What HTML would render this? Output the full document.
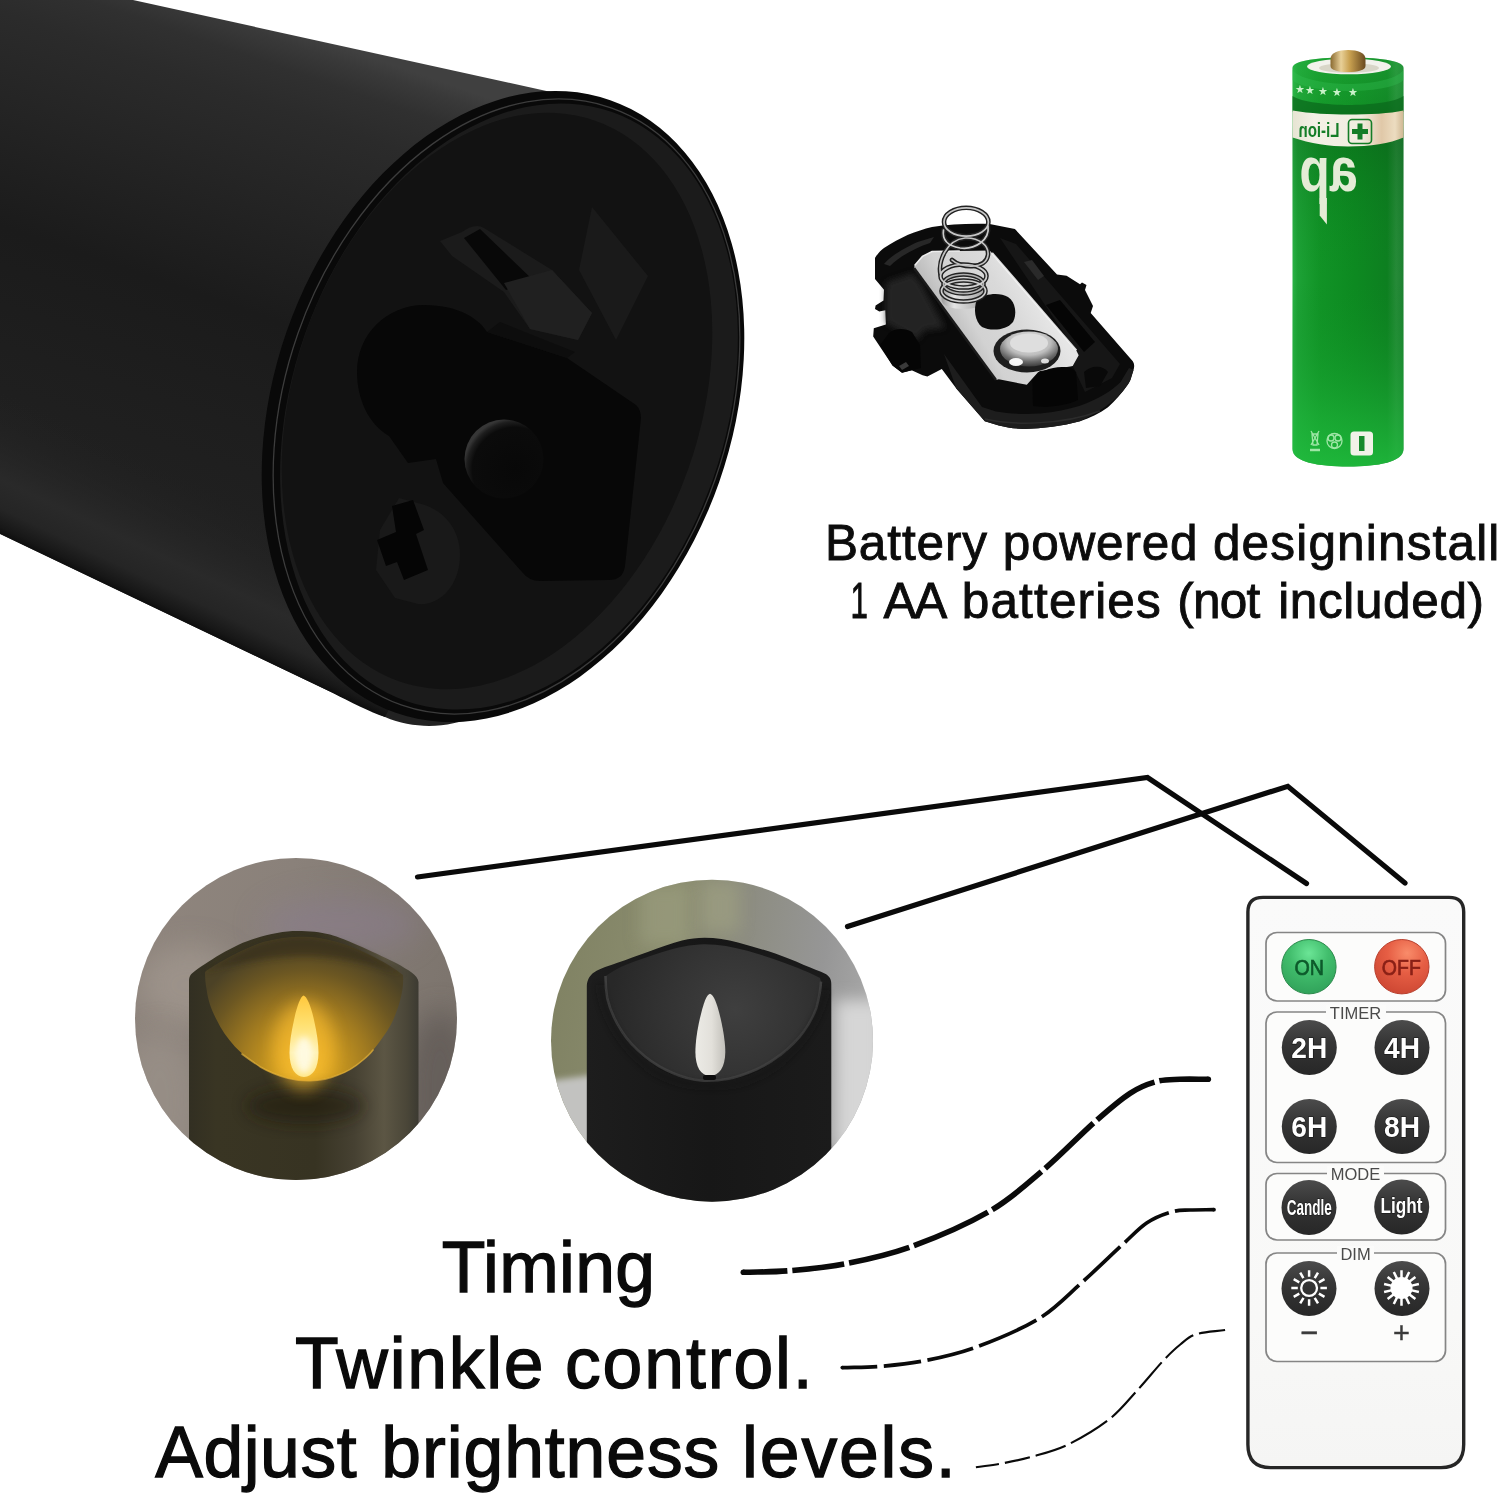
<!DOCTYPE html>
<html lang="en">
<head>
<meta charset="utf-8">
<title>Battery powered candle with remote</title>
<style>
html,body{margin:0;padding:0;background:#fff;}
body{width:1500px;height:1496px;overflow:hidden;position:relative;font-family:"Liberation Sans",sans-serif;}
svg{position:absolute;left:0;top:0;display:block;}
text{font-family:"Liberation Sans",sans-serif;}
</style>
</head>
<body>
<svg style="will-change:transform" width="1500" height="1496" viewBox="0 0 1500 1496">
<defs>
<linearGradient id="bodyG" gradientUnits="userSpaceOnUse" x1="330" y1="43" x2="147" y2="573">
<stop offset="0" stop-color="#404040"/>
<stop offset="0.025" stop-color="#393939"/>
<stop offset="0.07" stop-color="#303030"/>
<stop offset="0.14" stop-color="#2b2b2b"/>
<stop offset="0.3" stop-color="#242424"/>
<stop offset="0.5" stop-color="#1b1b1b"/>
<stop offset="0.7" stop-color="#1e1e1e"/>
<stop offset="1" stop-color="#222222"/>
</linearGradient>
<clipPath id="capClip"><ellipse cx="503" cy="406.5" rx="324.6" ry="229" transform="rotate(-70.7 503 406.5)"/></clipPath>
<linearGradient id="remG" x1="0" y1="0" x2="0" y2="1">
<stop offset="0" stop-color="#fafafa"/><stop offset="0.75" stop-color="#f8f8f7"/><stop offset="1" stop-color="#f5f5f4"/>
</linearGradient>
<radialGradient id="onG" cx="0.5" cy="0.25" r="0.8">
<stop offset="0" stop-color="#6be596"/><stop offset="0.45" stop-color="#41bd6c"/><stop offset="1" stop-color="#2f9f58"/>
</radialGradient>
<radialGradient id="offG" cx="0.6" cy="0.25" r="0.8">
<stop offset="0" stop-color="#f98c6a"/><stop offset="0.45" stop-color="#e65e44"/><stop offset="1" stop-color="#cc4632"/>
</radialGradient>
<linearGradient id="btnG" x1="0" y1="0" x2="0" y2="1">
<stop offset="0" stop-color="#4c4c4c"/><stop offset="0.4" stop-color="#363636"/><stop offset="1" stop-color="#272727"/>
</linearGradient>
<filter id="blur3" x="-20%" y="-20%" width="140%" height="140%"><feGaussianBlur stdDeviation="3"/></filter>
<filter id="blur8" x="-40%" y="-40%" width="180%" height="180%"><feGaussianBlur stdDeviation="8"/></filter>
<filter id="blur12" x="-50%" y="-50%" width="200%" height="200%"><feGaussianBlur stdDeviation="14"/></filter>
<clipPath id="c1clip"><circle cx="296" cy="1019" r="161"/></clipPath>
<clipPath id="c2clip"><circle cx="712" cy="1040.700" r="161"/></clipPath>
<linearGradient id="c1bg" x1="0" y1="0" x2="1" y2="0.300">
<stop offset="0" stop-color="#90867e"/><stop offset="0.45" stop-color="#8a817a"/><stop offset="1" stop-color="#7c746d"/>
</linearGradient>
<linearGradient id="c1body" gradientUnits="userSpaceOnUse" x1="189" y1="0" x2="418.500" y2="0">
<stop offset="0" stop-color="#322f22"/><stop offset="0.12" stop-color="#393523"/><stop offset="0.55" stop-color="#373322"/><stop offset="0.72" stop-color="#464132"/><stop offset="0.85" stop-color="#5c5644"/><stop offset="0.95" stop-color="#4a4638"/><stop offset="1" stop-color="#3c3a32"/>
</linearGradient>
<radialGradient id="c1glow" gradientUnits="userSpaceOnUse" cx="305" cy="1072" r="128" fx="305" fy="1066">
<stop offset="0" stop-color="#e8b428"/><stop offset="0.22" stop-color="#cf9c20"/><stop offset="0.5" stop-color="#a07a20"/><stop offset="0.78" stop-color="#6c5722"/><stop offset="1" stop-color="#4c4226"/>
</radialGradient>
<linearGradient id="flame1" x1="0" y1="0" x2="0" y2="1">
<stop offset="0" stop-color="#ffc83c"/><stop offset="0.35" stop-color="#ffe070"/><stop offset="0.7" stop-color="#fff2b4"/><stop offset="1" stop-color="#ffe684"/>
</linearGradient>
<linearGradient id="c2bg" x1="0" y1="0" x2="1" y2="0.150">
<stop offset="0" stop-color="#7e8061"/><stop offset="0.4" stop-color="#8b8d6f"/><stop offset="0.62" stop-color="#8d8d82"/><stop offset="0.85" stop-color="#969696"/><stop offset="1" stop-color="#a6a6a6"/>
</linearGradient>
<linearGradient id="c2body" gradientUnits="userSpaceOnUse" x1="586" y1="0" x2="831" y2="0">
<stop offset="0" stop-color="#1d1d1d"/><stop offset="0.5" stop-color="#171717"/><stop offset="1" stop-color="#1b1b1b"/>
</linearGradient>
<radialGradient id="c2in" gradientUnits="userSpaceOnUse" cx="735" cy="1010" r="125">
<stop offset="0" stop-color="#3f3f3f"/><stop offset="0.5" stop-color="#343434"/><stop offset="1" stop-color="#282828"/>
</radialGradient>
<linearGradient id="flame2" x1="0" y1="0" x2="1" y2="0">
<stop offset="0" stop-color="#ecebe6"/><stop offset="0.55" stop-color="#e2e0da"/><stop offset="1" stop-color="#c2c0ba"/>
</linearGradient>
<linearGradient id="batG" gradientUnits="userSpaceOnUse" x1="1292" y1="0" x2="1404" y2="0">
<stop offset="0" stop-color="#2cb548"/><stop offset="0.05" stop-color="#1da236"/><stop offset="0.25" stop-color="#119326"/><stop offset="0.55" stop-color="#0d8a21"/><stop offset="0.85" stop-color="#0d7f20"/><stop offset="0.93" stop-color="#268a38"/><stop offset="1" stop-color="#1c8030"/>
</linearGradient>
<linearGradient id="batBot" gradientUnits="userSpaceOnUse" x1="0" y1="55" x2="0" y2="466">
<stop offset="0" stop-color="#2fc04a" stop-opacity="0.35"/><stop offset="0.12" stop-color="#2fc04a" stop-opacity="0.15"/><stop offset="0.17" stop-color="#063c10" stop-opacity="0"/><stop offset="0.19" stop-color="#063c10" stop-opacity="0.25"/><stop offset="0.55" stop-color="#0d8a21" stop-opacity="0"/><stop offset="0.88" stop-color="#1fb83c" stop-opacity="0.55"/><stop offset="1" stop-color="#22c040" stop-opacity="0.8"/>
</linearGradient>
<linearGradient id="goldG" x1="0" y1="0" x2="1" y2="0">
<stop offset="0" stop-color="#8a6a30"/><stop offset="0.3" stop-color="#e8d098"/><stop offset="0.55" stop-color="#c8a050"/><stop offset="1" stop-color="#6a4a20"/>
</linearGradient>
<linearGradient id="bandG" gradientUnits="userSpaceOnUse" x1="1292" y1="0" x2="1404" y2="0">
<stop offset="0" stop-color="#e6e4d2"/><stop offset="0.2" stop-color="#f3f1e6"/><stop offset="0.62" stop-color="#f1ede0"/><stop offset="0.8" stop-color="#e0c8a8"/><stop offset="0.92" stop-color="#ecdcc0"/><stop offset="1" stop-color="#cdb590"/>
</linearGradient>
<linearGradient id="plateG" gradientUnits="userSpaceOnUse" x1="925" y1="300" x2="1010" y2="250">
<stop offset="0" stop-color="#b4b4b4"/><stop offset="0.3" stop-color="#d2d2d2"/><stop offset="0.7" stop-color="#d9d9d9"/><stop offset="1" stop-color="#e6e6e6"/>
</linearGradient>
<radialGradient id="domeG" cx="0.5" cy="0.3" r="0.75">
<stop offset="0" stop-color="#ededed"/><stop offset="0.5" stop-color="#bdbdbd"/><stop offset="0.75" stop-color="#6a6a6a"/><stop offset="1" stop-color="#2c2c2c"/>
</radialGradient>
<linearGradient id="bodyEdge" gradientUnits="userSpaceOnUse" x1="160" y1="610.400" x2="216" y2="493">
<stop offset="0" stop-color="#0e0e0e"/><stop offset="0.05" stop-color="#171717"/><stop offset="0.18" stop-color="#252525" stop-opacity="0.95"/><stop offset="0.38" stop-color="#2b2b2b" stop-opacity="0.85"/><stop offset="0.7" stop-color="#262626" stop-opacity="0.4"/><stop offset="1" stop-color="#222222" stop-opacity="0"/>
</linearGradient>
<radialGradient id="bumpG" cx="0.64" cy="0.64" r="0.66">
<stop offset="0" stop-color="#080808"/><stop offset="0.82" stop-color="#0b0b0b"/><stop offset="0.93" stop-color="#1e1e1e"/><stop offset="1" stop-color="#363636"/>
</radialGradient>
<linearGradient id="c1right" gradientUnits="userSpaceOnUse" x1="300" y1="0" x2="420" y2="0">
<stop offset="0" stop-color="#4a463c" stop-opacity="0"/><stop offset="1" stop-color="#5a554c" stop-opacity="0.5"/>
</linearGradient>
<linearGradient id="cylG" gradientUnits="userSpaceOnUse" x1="941" y1="0" x2="985" y2="0">
<stop offset="0" stop-color="#9a9a9a"/><stop offset="0.3" stop-color="#e4e4e4"/><stop offset="0.6" stop-color="#c8c8c8"/><stop offset="1" stop-color="#a6a6a6"/>
</linearGradient>

</defs>
<rect width="1500" height="1496" fill="#ffffff"/>
<g id="candle">
<path d="M0,0 L133,0 L560,94 L600,400 L475,716 C450,728 415,730 385,717 L333,693 L0,534 Z" fill="url(#bodyG)"/>
<path d="M-10,529 L333,693 C350,702 370,712 385,717 L445,603 L-10,385 Z" fill="url(#bodyEdge)"/>
<ellipse cx="503" cy="406.500" rx="324.600" ry="229" transform="rotate(-70.700 503 406.500)" fill="#090909"/>
<g clip-path="url(#capClip)">
<ellipse cx="506.500" cy="406.500" rx="316.500" ry="221" transform="rotate(-70.700 506.500 406.500)" fill="none" stroke="#3c3c3c" stroke-width="1.300"/>
<ellipse cx="509" cy="406.500" rx="312" ry="216.500" transform="rotate(-70.700 509 406.500)" fill="#1b1b1b"/>
<ellipse cx="497" cy="401" rx="297" ry="203" transform="rotate(-70.700 497 401)" fill="#121212"/>
<path d="M592,207 L648,276 L616,340 L579,270 Z" fill="#1a1a1a"/>
<path d="M440,241 L462,232 C470,226 478,224 484,228 L552,270 L592,313 L578,340 L530,329 L504,292 L452,256 Z" fill="#1b1b1b"/>
<path d="M464,238 L480,229 L534,281 L506,290 Z" fill="#080808"/>
<path d="M504,283 L552,270 L592,313 L578,340 L530,329 Z" fill="#202020"/>
<path d="M487,332 L567,358 L636,405 Q641,410 641,418 L625,566 Q623,580 609,580 L540,581 Q529,581 522,572 L443,483 L436,459 L408,463 L389,436 C368,424 357,398 357,372 C357,334 387,305 424,305 C460,305 480,320 487,332 Z" fill="#070707"/>
<path d="M487,332 L567,358 L575,352 L500,322 Z" fill="#0d0d0d"/>
<circle cx="504" cy="459" r="39.500" fill="url(#bumpG)"/>
<path d="M399,498 L425,505 C445,512 460,530 460,555 C460,585 440,606 418,604 L395,598 L376,570 L380,530 Z" fill="#191919"/>
<path d="M392,506 L413,500 L424,530 L416,534 L428,570 L404,580 L397,562 L386,566 L377,540 L396,532 Z" fill="#050505"/>
</g>
</g>

<g id="cover">
<path d="M875,258 C878,253 881,250 884,248 C892,243 900,238.500 908,234.800 C916,231.500 924,229 932,227 C950,224 970,223.500 989.600,224 L1014.900,229 L1057,274.600 L1066.600,275.800 L1080,284.200 L1082,282.500 L1086.500,285 L1085,290 L1093,306 L1090.700,313 L1132.800,361.300 C1134.500,364 1134.500,367 1133.500,370 L1130.400,380 C1129.500,382 1128.500,384 1127.600,385 C1122,393 1115,401 1108,407.200 C1100,413 1090,418 1080,421.200 C1062,426 1043,428.500 1024,429 C1015,428.500 1007,427.500 998.800,425.400 L984.800,421.200 L956.300,388.400 L941.800,369.100 L927.400,376.400 L922.600,375.200 L911.700,370.300 L902,372.700 L892.500,365.500 L873.200,336.600 L873.800,328.200 L885.900,324.600 L885.300,310.200 L879.300,311.400 L875,309 L875.600,305.400 L883.500,300.500 L884,289.700 L875,278.900 Z" fill="#0b0b0b"/>
<path d="M944,354 L982,407 L996,411.500 C1010,414 1025,414.500 1040,413.500 C1055,412 1068,409.500 1080,405.800 C1098,399 1112,391 1120.600,382 L1129,368 L1133.500,370 L1130.400,380 C1122,395 1108,408 1080,421.200 C1062,426 1043,428.500 1024,429 C1015,428.500 1007,427.500 998.800,425.400 L984.800,421.200 L956.300,388.400 Z" fill="#1d1d1d"/>
<path d="M984.800,419 C1010,425 1060,426 1100,411" fill="none" stroke="#333333" stroke-width="1.500" opacity="0.7"/>
<path d="M886.500,282 L913,273 L921,283 L945,328 L925,330 L917,340 L886,323 L886,290 Z" fill="#2a2a2a" opacity="0.8" filter="url(#blur3)"/>
<path d="M884,264 C890,257 900,250 917.600,242 L934,237 L930,243 C915,248 900,256 890,266 Z" fill="#2e2e2e" opacity="0.8"/>
<path d="M1000,238 L1016,244 L1120,364 L1112,378 L1085,392 L1072.700,366 L1078.700,355.200 Z" fill="#161616"/>
<path d="M1046,305 L1060,300 L1095,342 L1084,352 Z" fill="#050505"/>
<path d="M1024,262 L1032,260 L1044,276 L1038,280 Z" fill="#2a2a2a"/>
<path d="M914.600,265.400 L922.400,256.400 L932,251.600 L989.600,250.400 L992,253 L1076.300,350.400 L1078.700,355.200 L1072.700,366 L1070.200,366.600 L1040,371 L1038,372.200 L1026.800,384.800 L998.800,379.200 L996,380 L980.300,358.300 L914,268 Z" fill="url(#plateG)"/>
<path d="M992,253 L1076.300,350.400" stroke="#f4f4f4" stroke-width="2.200" fill="none" opacity="0.9"/>
<path d="M914,268 L996,380" stroke="#1a1a1a" stroke-width="2.500" fill="none"/>
<path d="M914.600,265.400 L922.400,256.400 L932,251.600 L960,251" stroke="#ededed" stroke-width="1.500" fill="none"/>
<path d="M941.500,284 H985 V300 C985,312 941.500,312 941.500,300 Z" fill="url(#cylG)"/>
<path d="M977,300 C985,293 1000,292 1008,297 C1016,302 1017,315 1013,322 C1006,331 990,331 982,327 C975,322 973,308 977,300 Z" fill="#0d0d0d"/>
<ellipse cx="1027" cy="351" rx="33.500" ry="21.500" fill="#1e1e1e"/>
<ellipse cx="1029" cy="349" rx="29" ry="17.500" fill="url(#domeG)"/>
<ellipse cx="1029" cy="343" rx="19" ry="9.500" fill="#dedede"/>
<ellipse cx="1016" cy="362" rx="7" ry="4" fill="#ffffff" opacity="0.95"/>
<ellipse cx="1045" cy="361" rx="4" ry="2.500" fill="#ffffff" opacity="0.8"/>
<path d="M1032.400,380 C1038,372 1050,367 1062,367 C1070,367 1074,369.500 1076,372.200 L1078,400 C1066,406 1046,408 1033,406 Z" fill="#050505"/>
<path d="M1084,372 C1092,364 1104,366 1108,372 L1100,386 L1086,388 Z" fill="#090909"/>
<path d="M889,333 C895,328 905,328 912,332 L920,345 L921,368 L911.700,370.300 L902,372.700 L892.500,365.500 L880,345 Z" fill="#050505"/>
<path d="M899,366 L906,362 L909,366 L902,370 Z" fill="#3a3a3a"/>
<g fill="none" stroke-linecap="round">
<g stroke="#222222" stroke-width="4.600">
<ellipse cx="963.500" cy="291" rx="22" ry="10.500"/>
<ellipse cx="963.500" cy="284" rx="20" ry="9.500"/>
<ellipse cx="963.500" cy="276" rx="23" ry="11.500"/>
<path d="M940.500,274 C938,262 946,240 965,238 C980,237.500 989,246 988,255 C986,270 960,268 952,260"/>
<ellipse cx="966.200" cy="222" rx="22.200" ry="14.200"/>
<path d="M988,226 C990,240 975,250 960,248 C948,246 942,240 943.500,230"/>
</g>
<g stroke="#cfcfcf" stroke-width="1.700">
<ellipse cx="963.500" cy="291" rx="22" ry="10.500"/>
<ellipse cx="963.500" cy="284" rx="20" ry="9.500" stroke="#b0b0b0"/>
<ellipse cx="963.500" cy="276" rx="23" ry="11.500"/>
<path d="M940.500,274 C938,262 946,240 965,238 C980,237.500 989,246 988,255 C986,270 960,268 952,260" stroke="#c2c2c2"/>
<ellipse cx="966.200" cy="222" rx="22.200" ry="14.200" stroke="#c6c6c6"/>
<path d="M988,226 C990,240 975,250 960,248 C948,246 942,240 943.500,230" stroke="#cdcdcd"/>
</g>
</g>
</g>

<g id="battery">
<path d="M1292.500,68 C1292.500,60 1320,57.500 1348,57.500 C1376,57.500 1403.500,60 1403.500,68 V449 C1403.500,462 1378,466.500 1348,466.500 C1318,466.500 1292.500,462 1292.500,449 Z" fill="url(#batG)"/>
<path d="M1292.500,68 C1292.500,60 1320,57.500 1348,57.500 C1376,57.500 1403.500,60 1403.500,68 V449 C1403.500,462 1378,466.500 1348,466.500 C1318,466.500 1292.500,462 1292.500,449 Z" fill="url(#batBot)"/>
<ellipse cx="1349" cy="66.500" rx="42" ry="7.800" fill="#f2f2ec"/>
<ellipse cx="1349" cy="68" rx="30" ry="5" fill="#d8d6c8"/>
<path d="M1330.500,66 V59 C1330.500,53 1338,50 1348,50 C1358,50 1365.500,53 1365.500,59 V66 C1365.500,70 1358,72 1348,72 C1338,72 1330.500,70 1330.500,66 Z" fill="url(#goldG)"/>
<path d="M1292.500,96 C1300,102 1330,105 1348,105 C1370,105 1396,102 1403.500,96 V112 C1396,113 1370,115 1348,115 C1330,115 1300,113 1292.500,112 Z" fill="#0b6a1c" opacity="0.75"/>
<path d="M1292.500,70 C1300,80 1330,84 1348,84 C1370,84 1396,80 1403.500,70 V80 C1396,88 1370,91 1348,91 C1330,91 1300,88 1292.500,80 Z" fill="#35c052" opacity="0.35"/>
<path d="M1292.500,110.500 C1310,113.500 1330,114.500 1348,114.500 C1370,114.500 1390,113.500 1403.500,110.500 V137.500 C1390,143.500 1370,146.500 1348,146.500 C1330,146.500 1310,143.500 1292.500,137.500 Z" fill="url(#bandG)"/>
<g fill="#c9f2c9" font-size="10.500" text-anchor="middle">
<text x="1300" y="93">★</text><text x="1310" y="93.500">★</text><text x="1322.500" y="94.500">★</text><text x="1336.500" y="95.500">★</text><text x="1353.300" y="96">★</text>
</g>
<g transform="translate(1339.500 137.300) scale(-1 1)"><text x="0" y="0" font-size="21" font-weight="bold" fill="#147d27" textLength="41" lengthAdjust="spacingAndGlyphs">Li-ion</text></g>
<rect x="1348.500" y="119.500" width="23" height="24" rx="3.500" fill="none" stroke="#147d27" stroke-width="1.600"/>
<path d="M1360,123.500 V139.500 M1352,131.500 H1368" stroke="#147d27" stroke-width="5" fill="none"/>
<g transform="translate(1357.500 190.500) scale(-1 1)"><text x="0" y="0" font-size="63" font-weight="bold" fill="#e4ecd6" textLength="58" lengthAdjust="spacingAndGlyphs">ap</text></g>
<path d="M1319.700,198 H1326.900 V224.500 L1319.700,215.500 Z" fill="#e4ecd6"/>
<rect x="1350.500" y="431.500" width="22.500" height="24" rx="3.500" fill="#f1f2e8"/>
<rect x="1359" y="436" width="5.500" height="15" fill="#178a2c"/>
<g fill="none" stroke="#9fe6a6" stroke-width="1.300">
<path d="M1311,431 L1319,445 M1319,431 L1311,445 M1312,434 H1318 L1317,445 H1313 Z"/>
<path d="M1310,450 H1320" stroke-width="2.500"/>
<circle cx="1334.500" cy="441" r="7.500"/><circle cx="1331" cy="438" r="3"/><circle cx="1338" cy="438" r="3"/><circle cx="1334.500" cy="445" r="3"/>
</g>
</g>

<g id="text1" fill="#0c0c0c" font-size="49.5" stroke="#0c0c0c" stroke-width="0.9">
<text y="560"><tspan x="824.94" letter-spacing="0.890">Battery</tspan> <tspan x="1002.78" letter-spacing="0.834">powered</tspan> <tspan x="1212.92" letter-spacing="1.166">designinstall</tspan></text>
<text y="618"><tspan x="850.62" textLength="17.42" lengthAdjust="spacingAndGlyphs">1</tspan> <tspan x="883.40" letter-spacing="-2.135">AA</tspan> <tspan x="961.78" letter-spacing="1.146">batteries</tspan> <tspan x="1177.23" letter-spacing="-0.724">(not</tspan> <tspan x="1278.18" letter-spacing="0.627">included)</tspan></text>
</g>

<g id="lines" fill="none" stroke="#0a0a0a" stroke-width="5.200" stroke-linecap="round" stroke-linejoin="miter">
<path d="M417.500,877 L1147.500,777.500 L1306.500,883.500"/>
<path d="M847.500,926.500 L1287.800,786.300 L1405,883"/>
</g>

<g id="circle1" clip-path="url(#c1clip)">
<rect x="130" y="850" width="340" height="340" fill="url(#c1bg)"/>
<ellipse cx="340" cy="925" rx="80" ry="30" fill="#8a7d90" opacity="0.5" filter="url(#blur12)"/>
<ellipse cx="190" cy="985" rx="50" ry="40" fill="#a39990" opacity="0.7" filter="url(#blur12)"/>
<ellipse cx="160" cy="1100" rx="40" ry="70" fill="#9d948c" opacity="0.6" filter="url(#blur12)"/>
<ellipse cx="440" cy="1090" rx="35" ry="80" fill="#5e5954" opacity="0.75" filter="url(#blur12)"/>
<path d="M189,1200 V982 C189,977 190,975 192.500,973 C205,963 235,944 255,938.500 C270,933.500 285,931 297,931 C310,931 320,932 330,934.500 C345,938.500 380,955 397,963.500 C408,970 418,975 418.500,982 V1200 Z" fill="url(#c1body)"/>
<path d="M205,972 C215,964 245,948 263,942 C280,937.500 295,936.500 305,936.700 C320,937 335,941 347,945 C360,949.500 390,964 403,975 C404,986 401,1000 396.500,1011.500 C392,1024 388,1030 383,1037 C377,1046 370,1054 363,1060 C355,1067 347,1072 338,1075 C330,1078.500 320,1080.500 310,1080.800 C302,1081 295,1080 288,1078.300 C278,1075.500 269,1072 260,1066.700 C250,1060 242,1054 235,1046.700 C227,1038 221,1029 216.700,1020 C211,1009 208,1000 206.700,990 C205.500,984 205,978 205,972 Z" fill="url(#c1glow)"/>
<path d="M205,972 C215,964 245,948 263,942 C280,937.500 295,936.500 305,936.700 C320,937 335,941 347,945 C360,949.500 390,964 403,975 C380,966 340,956 305,956 C270,956 230,964 205,972 Z" fill="#2e2816" opacity="0.5" filter="url(#blur3)"/>
<path d="M242,1054 C250,1060 260,1066.700 260,1066.700 C269,1072 278,1075.500 288,1078.300 C295,1080 302,1081 310,1080.800 C320,1080.500 330,1078.500 338,1075 C347,1072 355,1067 363,1060 C366,1057.500 370,1054 373,1050" fill="none" stroke="#e6b43a" stroke-width="1.600" opacity="0.7" stroke-linecap="round"/>
<ellipse cx="305" cy="1106" rx="58" ry="18" fill="#221c10" opacity="0.6" filter="url(#blur8)"/>
<ellipse cx="304" cy="1046" rx="30" ry="44" fill="#ffc030" opacity="0.6" filter="url(#blur8)"/>
<path d="M303.500,995.500 C307,996.500 311,1006 314,1020 C317,1033 318.500,1044 318.500,1053 C318.500,1068 312.500,1077 304,1077 C295.500,1077 289.500,1068 289.500,1053 C289.500,1044 291,1033 294,1020 C297,1006 300.500,996.500 303.500,995.500 Z" fill="url(#flame1)"/>
<ellipse cx="304" cy="1055" rx="9" ry="18" fill="#fffbe6" opacity="0.9" filter="url(#blur3)"/>
</g>

<g id="circle2" clip-path="url(#c2clip)">
<rect x="545" y="875" width="335" height="335" fill="url(#c2bg)"/>
<rect x="640" y="885" width="50" height="60" fill="#9a9c7e" opacity="0.7" filter="url(#blur8)"/>
<rect x="700" y="882" width="40" height="50" fill="#a0a284" opacity="0.6" filter="url(#blur8)"/>
<path d="M540,1082 L600,1074 V1215 H540 Z" fill="#c2c2c0" filter="url(#blur3)"/>
<path d="M835,1000 H885 V1150 H835 Z" fill="#d6d6d6" filter="url(#blur8)"/>
<path d="M830,1150 H885 V1215 H830 Z" fill="#4a4a4a" filter="url(#blur3)"/>
<path d="M586.800,1215 V986 C587,980 590,975 594.300,972.300 C600,968 610,965.500 616.700,963 C628,959 638,955.500 648.400,951.700 C660,947.500 672,943 682,940.500 C690,938.500 697,937.700 704.400,937.700 C716,937.700 727,939.500 738,942.400 C751,946 763,949.500 775.300,953.600 C785,957 795,961 803.300,964.800 C812,968.500 820,971 825.700,974.100 C829,976 831.300,979 831.300,984 V1215 Z" fill="url(#c2body)"/>
<path d="M605.500,976 C612,972 618,968 626,964.800 C638,960 651,955.500 663.300,951.700 C677,947.500 691,944.500 704.400,944.300 C719,944.300 733,947 747.300,950.800 C760,954.500 773,958.500 784.700,963 C797,967.500 810,972.500 820,978 L821,981.600 C820.500,991 818.500,1000 816.400,1007.700 C813,1017 808.500,1025 803.300,1032 C797,1041 789,1048 781,1054.400 C773,1060.500 765,1065.500 756.700,1069.300 C747,1073.500 738,1077 728.700,1078.700 C719,1080.500 710,1081 700.700,1080.500 C691,1079.500 682,1077 672.700,1073 C663,1069 653,1063 644.700,1056.300 C636,1049 628,1041 622.300,1032 C615,1021 610,1010 607.300,998.400 C606,991 605.500,984 605.500,976 Z" fill="url(#c2in)"/>
<path d="M605.500,976 C605.500,984 606,991 607.300,998.400 C610,1010 615,1021 622.300,1032 C628,1041 636,1049 644.700,1056.300 C653,1063 663,1069 672.700,1073 C682,1077 691,1079.500 700.700,1080.500 C710,1081 719,1080.500 728.700,1078.700 C738,1077 747,1073.500 756.700,1069.300 C765,1065.500 773,1060.500 781,1054.400 C789,1048 797,1041 803.300,1032 C808.500,1025 813,1017 816.400,1007.700 C818.500,1000 820.500,991 821,981.600" fill="none" stroke="#444444" stroke-width="2.600" opacity="0.85"/>
<path d="M600,985 C604,1020 625,1052 655,1072 C680,1087 720,1090 750,1080 C785,1066 815,1035 826,990" fill="none" stroke="#181818" stroke-width="5" opacity="0.55" filter="url(#blur3)"/>
<path d="M710,993.700 C713.500,994.500 717,1003 720.500,1018 C723.500,1031 725.300,1043 725.300,1052 C725.300,1067 719,1076 710,1076 C701,1076 695.400,1067 695.400,1052 C695.400,1043 697,1031 700,1018 C703.500,1003 706.500,994.500 710,993.700 Z" fill="url(#flame2)"/>
<rect x="703" y="1075" width="13" height="5" rx="2" fill="#0c0c0c"/>
</g>

<g id="remote">
<path d="M1263,897.400 H1449 Q1463.700,897.400 1463.700,912 V1444.500 Q1463.700,1467.600 1441,1467.600 H1270.500 Q1247.900,1467.600 1247.900,1444.500 V912 Q1247.900,897.400 1263,897.400 Z" fill="url(#remG)" stroke="#262626" stroke-width="3.400"/>
<g fill="#fcfcfb" stroke="#858585" stroke-width="1.700">
<rect x="1266" y="932.500" width="179.500" height="68.500" rx="11"/>
<rect x="1266" y="1012" width="179.500" height="150.500" rx="11"/>
<rect x="1266" y="1173.500" width="179.500" height="66.500" rx="11"/>
<rect x="1266" y="1253" width="179.500" height="108.500" rx="11"/>
</g>
<g fill="#fbfbfa">
<rect x="1326" y="1005" width="60" height="14"/>
<rect x="1327" y="1166" width="57" height="14"/>
<rect x="1337" y="1246" width="37" height="14"/>
</g>
<g font-size="16.500" fill="#4a4a4a" text-anchor="middle">
<text x="1355.500" y="1019">TIMER</text>
<text x="1355.500" y="1180">MODE</text>
<text x="1355.500" y="1260">DIM</text>
</g>
<circle cx="1308.900" cy="966.700" r="27.200" fill="url(#onG)" stroke="#2c8a4c" stroke-width="1"/>
<circle cx="1401.800" cy="966.700" r="27.200" fill="url(#offG)" stroke="#b8402e" stroke-width="1"/>
<text x="1309.200" y="975" font-size="22.500" text-anchor="middle" fill="#0d5a2b" stroke="#0d5a2b" stroke-width="0.700" textLength="29.500" lengthAdjust="spacingAndGlyphs">ON</text>
<text x="1401.300" y="975" font-size="22.500" text-anchor="middle" fill="#8a2016" stroke="#8a2016" stroke-width="0.700" textLength="39" lengthAdjust="spacingAndGlyphs">OFF</text>
<g fill="url(#btnG)">
<circle cx="1309.300" cy="1047.500" r="27.500"/><circle cx="1402" cy="1047.500" r="27.500"/>
<circle cx="1309.300" cy="1126.500" r="27.500"/><circle cx="1402" cy="1126.500" r="27.500"/>
<circle cx="1309" cy="1207.500" r="27.500"/><circle cx="1401.700" cy="1207" r="27.500"/>
<circle cx="1309" cy="1288.500" r="27.500"/><circle cx="1402" cy="1288.500" r="27.500"/>
</g>
<g font-size="30" font-weight="bold" text-anchor="middle" fill="#ffffff" stroke="#111111" stroke-width="1.2" paint-order="stroke">
<text x="1309.300" y="1058" textLength="36" lengthAdjust="spacingAndGlyphs">2H</text>
<text x="1402" y="1058" textLength="36" lengthAdjust="spacingAndGlyphs">4H</text>
<text x="1309.300" y="1137" textLength="36" lengthAdjust="spacingAndGlyphs">6H</text>
<text x="1402" y="1137" textLength="36" lengthAdjust="spacingAndGlyphs">8H</text>
</g>
<g font-weight="bold" text-anchor="middle" fill="#ffffff" stroke="#111111" stroke-width="1" paint-order="stroke">
<text x="1309.300" y="1215" font-size="22.500" textLength="45" lengthAdjust="spacingAndGlyphs">Candle</text>
<text x="1401.500" y="1212.800" font-size="22" textLength="42" lengthAdjust="spacingAndGlyphs">Light</text>
</g>
<g stroke="#ffffff" stroke-width="2.500" stroke-linecap="butt" fill="none">
<g transform="translate(1309.100 1288)">
<circle r="7.900" stroke-width="2.300"/>
<path d="M0.0,-11.3L0.0,-17.8M5.6,-9.8L8.9,-15.4M9.8,-5.7L15.4,-8.9M11.3,0.0L17.8,0.0M9.8,5.6L15.4,8.9M5.6,9.8L8.9,15.4M0.0,11.3L0.0,17.8M-5.6,9.8L-8.9,15.4M-9.8,5.7L-15.4,8.9M-11.3,0.0L-17.8,0.0M-9.8,-5.7L-15.4,-8.9M-5.7,-9.8L-8.9,-15.4"/>
</g>
<g transform="translate(1401.500 1288)">
<circle r="9.800" fill="#ffffff"/>
<path d="M0.0,-9.5L0.0,-17.8M4.1,-8.6L7.7,-16.0M7.4,-5.9L13.9,-11.1M9.3,-2.1L17.4,-4.0M9.3,2.1L17.4,4.0M7.4,5.9L13.9,11.1M4.1,8.6L7.7,16.0M0.0,9.5L0.0,17.8M-4.1,8.6L-7.7,16.0M-7.4,5.9L-13.9,11.1M-9.3,2.1L-17.4,4.0M-9.3,-2.1L-17.4,-4.0M-7.4,-5.9L-13.9,-11.1M-4.1,-8.6L-7.7,-16.0"/>
</g>
</g>
<g fill="#3a3a3a" text-anchor="middle" stroke="#3a3a3a" stroke-width="0.4">
<text x="1309" y="1343" font-size="31">−</text>
<text x="1401.500" y="1343" font-size="29">+</text>
</g>
</g>

<g id="curves" fill="none" stroke="#0a0a0a" stroke-linecap="butt">
<path d="M743.3,1272.3 C758.9,1271.8 772.8,1272.2 790.0,1270.7 C807.2,1269.2 826.4,1267.5 846.7,1263.5 C867.0,1259.5 887.8,1255.2 911.7,1246.5 C935.6,1237.8 968.1,1223.8 990.0,1211.0 C1011.9,1198.2 1025.8,1184.9 1043.3,1170.0 C1060.8,1155.1 1080.5,1134.5 1095.0,1121.7 C1109.5,1108.9 1119.7,1100.0 1130.0,1093.3 C1140.3,1086.6 1148.4,1083.8 1156.7,1081.5 C1165.0,1079.2 1171.4,1079.7 1180.0,1079.3 C1188.6,1078.9 1198.9,1079.3 1208.3,1079.3" stroke-width="5.6" stroke-dasharray="44.2 5.0 52.2 5.0 62.3 5.0 81.1 5.0 62.4 5.0 65.8 5.0 69.4 5.0 54.3 0.0"/>
<path d="M842.3,1367.6 C855.1,1367.2 866.9,1367.4 880.6,1366.3 C894.3,1365.2 908.4,1364.0 924.3,1360.8 C940.2,1357.6 957.1,1354.1 976.2,1347.1 C995.3,1340.0 1021.5,1329.2 1039.0,1318.5 C1056.5,1307.8 1067.5,1295.2 1081.4,1282.9 C1095.3,1270.6 1111.5,1254.7 1122.4,1244.7 C1133.3,1234.7 1138.8,1228.3 1147.0,1222.8 C1155.2,1217.3 1164.4,1214.0 1171.6,1211.9 C1178.8,1209.8 1182.9,1210.4 1190.0,1210.0 C1197.1,1209.6 1206.0,1209.8 1214.0,1209.7" stroke-width="3.7" stroke-dasharray="35.1 6.5 37.6 6.5 47.2 6.5 62.6 6.5 49.0 6.5 49.5 6.5 53.5 6.5 44.3 0.0"/>
<path d="M975.9,1467.2 C984.6,1465.9 992.5,1465.2 1002.0,1463.4 C1011.5,1461.6 1021.8,1459.7 1032.8,1456.5 C1043.8,1453.3 1055.5,1450.6 1068.3,1444.4 C1081.0,1438.2 1097.8,1428.2 1109.3,1419.2 C1120.8,1410.2 1128.3,1400.1 1137.3,1390.3 C1146.3,1380.5 1156.3,1368.0 1163.5,1360.4 C1170.7,1352.8 1174.9,1348.8 1180.3,1344.5 C1185.7,1340.2 1188.6,1336.7 1196.1,1334.3 C1203.6,1331.9 1215.4,1331.4 1225.1,1330.0" stroke-width="2.1" stroke-dasharray="23.4 6.0 25.6 6.0 31.6 6.0 42.2 6.0 34.3 6.0 33.8 6.0 36.1 6.0 31.4 0.0"/>
<circle cx="743.3" cy="1272.3" r="2.8" fill="#0a0a0a" stroke="none"/><circle cx="1208.3" cy="1079.3" r="2.8" fill="#0a0a0a" stroke="none"/>
<circle cx="842.3" cy="1367.6" r="1.85" fill="#0a0a0a" stroke="none"/><circle cx="1214" cy="1209.7" r="1.85" fill="#0a0a0a" stroke="none"/>
</g>

<g id="text2" fill="#0a0a0a" font-size="71.5" stroke="#0a0a0a" stroke-width="1.3">
<text y="1291.5"><tspan x="441.63" letter-spacing="0.299">Timing</tspan></text>
<text y="1387.6"><tspan x="294.93" letter-spacing="1.706">Twinkle</tspan> <tspan x="564.90" letter-spacing="1.909">control.</tspan></text>
<text y="1476.5"><tspan x="155.16" letter-spacing="0.529">Adjust</tspan> <tspan x="381.35" letter-spacing="0.902">brightness</tspan> <tspan x="742.11" letter-spacing="1.816">levels.</tspan></text>
</g>

</svg>
</body>
</html>
